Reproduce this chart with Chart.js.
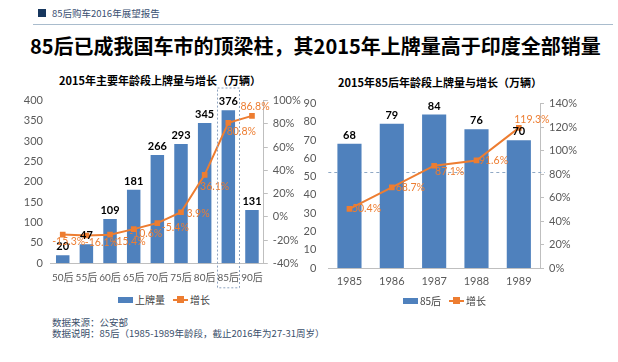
<!DOCTYPE html>
<html><head><meta charset="utf-8">
<script src="https://cdn.jsdelivr.net/npm/chart.js@4"></script>
<style>
html,body{margin:0;padding:0;background:#fff;}
body{width:618px;height:362px;position:relative;overflow:hidden;font-family:"Noto Sans CJK SC",sans-serif;}
.abs{position:absolute;white-space:nowrap;}
#hdrBox{left:38px;top:9px;width:8px;height:8px;background:#17375e;}
#hdrText{left:52px;top:6px;font-size:9.5px;color:#3a5072;line-height:14px;}
#hdrLine{left:33px;top:24px;width:580px;height:1px;background:#a9bccd;}
#mainTitle{left:30px;top:32px;font-size:20px;font-weight:bold;color:#000;line-height:28px;}
.ctitle{font-size:11px;font-weight:bold;color:#000;line-height:16px;text-align:center;width:260px;}
.legend{display:flex;align-items:center;font-size:10px;color:#404040;line-height:12px;}
.lbox{width:15px;height:6px;background:#4f81bd;margin-right:2px;}
.lline{position:relative;width:15px;height:2px;background:#ed7d31;margin-right:2px;margin-left:8px;}
.lline:after{content:"";position:absolute;left:4px;top:-3px;width:7px;height:7px;background:#ed7d31;}
#foot{left:52px;top:317px;font-size:9.5px;line-height:11px;color:#3b4f6b;}
canvas{position:absolute;}
</style></head>
<body>
<div class="abs" id="hdrBox"></div>
<div class="abs" id="hdrText">85后购车2016年展望报告</div>
<div class="abs" id="hdrLine"></div>
<div class="abs" id="mainTitle">85后已成我国车市的顶梁柱，其2015年上牌量高于印度全部销量</div>
<div class="abs ctitle" style="left:30px;top:72px;">2015年主要年龄段上牌量与增长（万辆）</div>
<div class="abs ctitle" style="left:310px;top:74px;">2015年85后年龄段上牌量与增长（万辆）</div>
<div style="position:absolute;left:0;top:85px;width:310px;height:205px;"><canvas id="c1" width="310" height="205"></canvas></div>
<div style="position:absolute;left:300px;top:85px;width:300px;height:205px;"><canvas id="c2" width="300" height="205"></canvas></div>
<div class="abs legend" style="left:118px;top:294px;"><div class="lbox"></div><span>上牌量</span><div class="lline"></div><span>增长</span></div>
<div class="abs legend" style="left:403px;top:295px;"><div class="lbox"></div><span>85后</span><div class="lline"></div><span>增长</span></div>
<div class="abs" id="foot">数据来源：公安部<br>数据说明：85后（1985-1989年龄段，截止2016年为27-31周岁）</div>
<script>
// ---- data ----
const ageGroups = ['50后','55后','60后','65后','70后','75后','80后','85后','90后'];
const plates2015 = [20,47,109,181,266,293,345,376,131];
const growth2015 = [-15.3,-16.1,-15.4,-10.6,-5.4,3.9,36.1,80.8,86.8];
const birthYears = ['1985','1986','1987','1988','1989'];
const plates85 = [68,79,84,76,70];
const growth85 = [50.4,68.7,87.1,91.6,119.3];
const refLineValue = 81.5; // dashed reference line (right axis, %)
const highlightCategory = '85后';

// ---- label placement (styling only) ----
const growth2015LabelOffsets = [[6,7],[15,7],[19,6.5],[12,4.5],[18,4.5],[17,1],[10,12],[13,8.5],[3,-9]];
const growth85LabelOffsets = [[17,0],[18.5,0.5],[15.5,6],[17,0.5],[13,-8]];

const BLUE='#4f81bd', ORANGE='#ed7d31', AXIS='#bfbfbf', TICK='#595959';
const NUMFONT='Lato, "Noto Sans CJK SC", sans-serif';

const labelPlugin = {
  id:'customLabels',
  beforeDatasetsDraw(chart, args, o){
    if(o.refLine==null) return;
    const ctx=chart.ctx, ca=chart.chartArea, y=chart.scales.y1.getPixelForValue(o.refLine);
    ctx.save();
    ctx.strokeStyle='#8fa8c4'; ctx.lineWidth=1; ctx.setLineDash([3,3]);
    ctx.beginPath(); ctx.moveTo(ca.left, Math.round(y)+0.5); ctx.lineTo(ca.right+5, Math.round(y)+0.5); ctx.stroke();
    ctx.restore();
  },
  afterDatasetsDraw(chart, args, o){
    const ctx=chart.ctx;
    ctx.save();
    ctx.textAlign='center'; ctx.textBaseline='middle';
    const bm=chart.getDatasetMeta(o.barIndex), bd=chart.data.datasets[o.barIndex].data;
    ctx.font='bold 11px '+NUMFONT; ctx.fillStyle='#000';
    bm.data.forEach((el,i)=>{ ctx.fillText(String(bd[i]), el.x, el.y-8.5); });
    const lm=chart.getDatasetMeta(o.lineIndex), ld=chart.data.datasets[o.lineIndex].data;
    ctx.font='10.5px '+NUMFONT; ctx.fillStyle=ORANGE;
    lm.data.forEach((el,i)=>{ const off=o.offsets[i]; ctx.fillText(ld[i].toFixed(1)+'%', el.x+off[0], el.y+off[1]); });
    if(o.highlight!=null){
      const xs=chart.scales.x, idx=chart.data.labels.indexOf(o.highlight);
      const cx=xs.getPixelForValue(idx), half=xs.width/chart.data.labels.length*0.47;
      const ca=chart.chartArea;
      ctx.strokeStyle='#8ea3bf'; ctx.lineWidth=1; ctx.setLineDash([2,2]);
      ctx.strokeRect(Math.round(cx-half)+0.5, ca.top-12.5, Math.round(2*half), ca.bottom-ca.top+37);
    }
    ctx.restore();
  }
};

function makeChart(id, labels, bars, line, opts){
  return new Chart(document.getElementById(id), {
    data:{labels, datasets:[
      {type:'line', label:'增长', data:line, yAxisID:'y1', order:0, borderColor:ORANGE, backgroundColor:ORANGE,
       borderWidth:2, pointStyle:'rect', pointRadius:4, pointBorderWidth:0, tension:0},
      {type:'bar', label:opts.barLabel, data:bars, yAxisID:'y', order:1, backgroundColor:BLUE,
       categoryPercentage:1, barPercentage:0.57}
    ]},
    options:{
      responsive:false, animation:false, devicePixelRatio:1,
      layout:{padding:{top:opts.padTop,left:0,right:0,bottom:0}},
      plugins:{legend:{display:false}, tooltip:{enabled:false}, title:{display:false},
        customLabels:{barIndex:1,lineIndex:0,offsets:opts.offsets,refLine:opts.refLine,highlight:opts.highlight}},
      scales:{
        x:{grid:{display:false,drawTicks:false}, border:{display:true,color:AXIS,width:1},
           ticks:{color:TICK,font:{size:opts.xFont,family:NUMFONT},padding:opts.xPad,maxRotation:0,autoSkip:false},
           afterFit:s=>{s.height=opts.xH;}},
        y:{position:'left', min:opts.yMin, max:opts.yMax, grid:{display:false,drawTicks:false}, border:{display:false},
           ticks:{stepSize:opts.yStep,color:TICK,font:{size:11,family:NUMFONT},padding:opts.yPad},
           afterFit:s=>{s.width=opts.yW;}},
        y1:{position:'right', min:opts.y1Min, max:opts.y1Max,
           grid:{display:true,drawOnChartArea:false,drawTicks:true,tickLength:4,color:AXIS},
           border:{display:true,color:AXIS,width:1},
           ticks:{stepSize:20,color:TICK,font:{size:11,family:NUMFONT},padding:5,callback:v=>v+'%'},
           afterFit:s=>{s.width=opts.y1W;}}
      }
    },
    plugins:[labelPlugin]
  });
}

makeChart('c1', ageGroups, plates2015, growth2015, {
  barLabel:'上牌量', offsets:growth2015LabelOffsets, refLine:null, highlight:highlightCategory,
  padTop:15.5, xH:26.7, xPad:8, xFont:10, yMin:0, yMax:400, yStep:50, yPad:8, yW:50.9,
  y1Min:-40, y1Max:100, y1W:46.2
});
makeChart('c2', birthYears, plates85, growth85, {
  barLabel:'85后', offsets:growth85LabelOffsets, refLine:refLineValue, highlight:null,
  padTop:15, xH:22, xPad:7, xFont:11, yMin:0, yMax:90, yStep:10, yPad:12, yW:28.3,
  y1Min:0, y1Max:140, y1W:60
});
</script>
</body></html>
